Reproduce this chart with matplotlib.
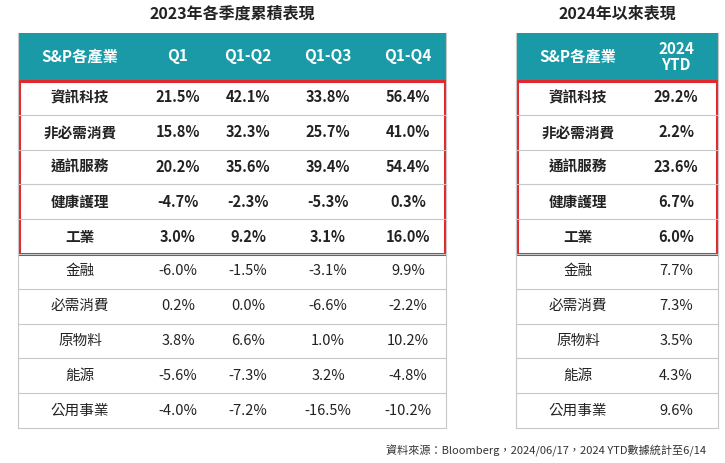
import matplotlib.pyplot as plt
from matplotlib.patches import Rectangle

plt.rcParams['font.family'] = ['Noto Sans CJK TC', 'DejaVu Sans']

sectors = ["資訊科技", "非必需消費", "通訊服務", "健康護理", "工業",
           "金融", "必需消費", "原物料", "能源", "公用事業"]
q1 = ["21.5%", "15.8%", "20.2%", "-4.7%", "3.0%", "-6.0%", "0.2%", "3.8%", "-5.6%", "-4.0%"]
q1_q2 = ["42.1%", "32.3%", "35.6%", "-2.3%", "9.2%", "-1.5%", "0.0%", "6.6%", "-7.3%", "-7.2%"]
q1_q3 = ["33.8%", "25.7%", "39.4%", "-5.3%", "3.1%", "-3.1%", "-6.6%", "1.0%", "3.2%", "-16.5%"]
q1_q4 = ["56.4%", "41.0%", "54.4%", "0.3%", "16.0%", "9.9%", "-2.2%", "10.2%", "-4.8%", "-10.2%"]
ytd_2024 = ["29.2%", "2.2%", "23.6%", "6.7%", "6.0%", "7.7%", "7.3%", "3.5%", "4.3%", "9.6%"]
n_bold = 5

left_headers = ["S&P各產業", "Q1", "Q1-Q2", "Q1-Q3", "Q1-Q4"]
right_headers = ["S&P各產業", "2024\nYTD"]

TEAL = "#1a9aa6"
RED = "#e0282e"
GRID = "#c8c8c8"

fig = plt.figure(figsize=(7.25, 4.63), dpi=100)
ax = fig.add_axes([0, 0, 1, 1])
ax.set_xlim(0, 725)
ax.set_ylim(463, 0)
ax.axis("off")

top, head_h, row_h = 33, 47, 34.8


def draw_table(x0, x1, col_x, headers, columns, title):
    ax.text((x0 + x1) / 2, 14, title, ha="center", va="center",
            fontsize=11.5, fontweight="bold", color="#222222")
    ax.add_patch(Rectangle((x0, top), x1 - x0, head_h, color=TEAL, lw=0))
    for cx, h in zip(col_x, headers):
        ax.text(cx, top + head_h / 2, h, ha="center", va="center",
                fontsize=11, fontweight="bold", color="white", linespacing=1.0)
    y0 = top + head_h
    n = len(sectors)
    for i in range(n):
        yc = y0 + (i + 0.5) * row_h
        bold = "bold" if i < n_bold else "normal"
        vals = [sectors[i]] + [c[i] for c in columns]
        for cx, v in zip(col_x, vals):
            ax.text(cx, yc, v, ha="center", va="center", fontsize=10.5,
                    fontweight=bold, color="#222222")
        ax.plot([x0, x1], [y0 + (i + 1) * row_h] * 2, color=GRID, lw=0.8)
    bottom = y0 + n * row_h
    ax.plot([x0, x0], [top, bottom], color=GRID, lw=0.8)
    ax.plot([x1, x1], [top, bottom], color=GRID, lw=0.8)
    ax.add_patch(Rectangle((x0 + 1, y0 + 1), x1 - x0 - 2, n_bold * row_h - 1,
                           fill=False, ec=RED, lw=2.2))


draw_table(18, 446, [80, 178, 248, 328, 408], left_headers,
           [q1, q1_q2, q1_q3, q1_q4], "2023年各季度累積表現")
draw_table(516, 718, [578, 676], right_headers, [ytd_2024], "2024年以來表現")

ax.text(706, 451, "資料來源：Bloomberg，2024/06/17，2024 YTD數據統計至6/14",
        ha="right", va="center", fontsize=8, color="#333333")

fig.savefig("out.png", dpi=100)
